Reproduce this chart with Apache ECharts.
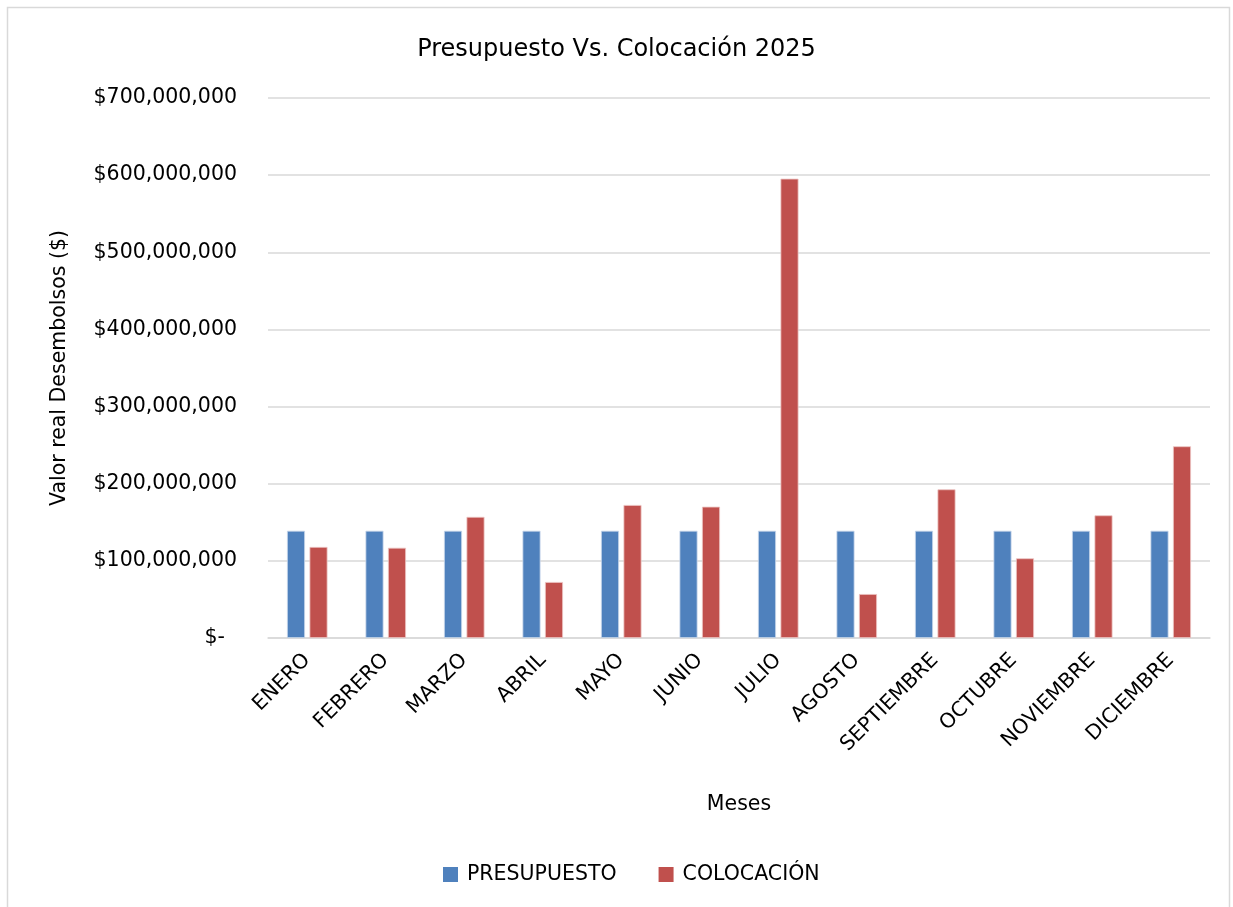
<!DOCTYPE html>
<html><head><meta charset="utf-8">
<script src="https://cdn.jsdelivr.net/npm/echarts@6/dist/echarts.min.js"></script>
<style>html,body{margin:0;padding:0;background:#fff}#c{width:1233px;height:907px}</style>
</head><body><div id="c"></div>
<script>
const categories = ['ENERO','FEBRERO','MARZO','ABRIL','MAYO','JUNIO','JULIO','AGOSTO','SEPTIEMBRE','OCTUBRE','NOVIEMBRE','DICIEMBRE'];
const presupuesto = [139000000,139000000,139000000,139000000,139000000,139000000,139000000,139000000,139000000,139000000,139000000,139000000];
const colocacion = [118000000,117000000,157000000,72600000,172400000,170200000,595400000,57000000,192700000,103300000,159000000,248500000];
const seriesNames = ['PRESUPUESTO','COLOCACIÓN'];
const titleText = 'Presupuesto Vs. Colocación 2025';
const yAxisName = 'Valor real Desembolsos ($)';
const xAxisName = 'Meses';

const FONT = 'DejaVu Sans';
const FS = 20.5;
const chart = echarts.init(document.getElementById('c'), null, {renderer:'canvas'});
function fmt(v){
  if (v === 0) return '{z|$-}';
  return '$' + v.toLocaleString('en-US');
}
chart.setOption({
  animation:false,
  textStyle:{fontFamily:FONT},
  graphic:[{type:'rect', shape:{x:7.5,y:7.5,width:1222,height:910}, style:{fill:'none', stroke:'#d9d9d9', lineWidth:1.5}, silent:true}],
  title:{text:titleText, left:'center', top:33, textStyle:{fontFamily:FONT, fontSize:24, fontWeight:'normal', color:'#000'}},
  grid:{left:268, right:23, top:98, bottom:269, containLabel:false},
  legend:{bottom:17, left:438, itemWidth:15, itemHeight:15, itemGap:42, icon:'rect',
    itemStyle:{borderWidth:0},
    textStyle:{fontFamily:FONT, fontSize:FS, color:'#000', padding:[0,0,0,4]}},
  xAxis:{type:'category', data:categories, name:xAxisName, nameLocation:'middle', nameGap:156,
    nameTextStyle:{fontFamily:FONT, fontSize:FS, color:'#000'},
    axisLine:{lineStyle:{color:'#d9d9d9', width:1.5}}, axisTick:{show:false},
    axisLabel:{rotate:45, interval:0, margin:19, fontFamily:FONT, fontSize:FS, color:'#000'}},
  yAxis:{type:'value', min:0, max:700000000, interval:100000000, name:yAxisName, nameLocation:'middle', nameGap:198,
    nameTextStyle:{fontFamily:FONT, fontSize:FS, color:'#000'},
    axisLine:{show:false}, axisTick:{show:false},
    splitLine:{lineStyle:{color:'#d9d9d9', width:1.5}},
    axisLabel:{margin:31, fontFamily:FONT, fontSize:FS, color:'#000', formatter:fmt,
      rich:{z:{fontFamily:FONT, fontSize:FS, color:'#000', padding:[0,12,0,0]}}}},
  series:[
    {name:seriesNames[0], type:'bar', data:presupuesto, barWidth:18, barGap:'25%',
      itemStyle:{color:'#4f81bd', borderColor:'#c6d6ea', borderWidth:0.8}},
    {name:seriesNames[1], type:'bar', data:colocacion, barWidth:18,
      itemStyle:{color:'#c0504d', borderColor:'#ecc4c3', borderWidth:0.8}}
  ]
});
</script></body></html>
